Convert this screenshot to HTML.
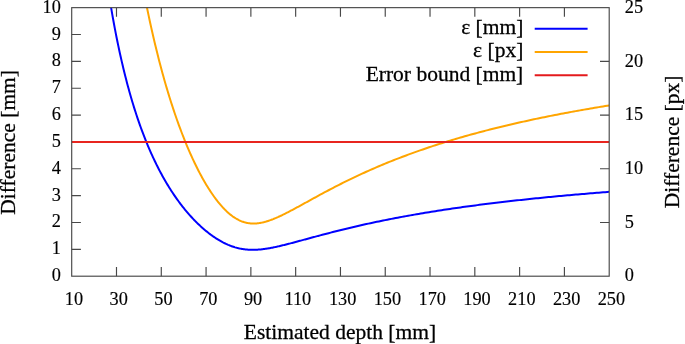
<!DOCTYPE html>
<html><head><meta charset="utf-8"><title>plot</title>
<style>
html,body{margin:0;padding:0;background:#fff;}
body{width:685px;height:344px;overflow:hidden;}
svg{display:block;}
.t{font-family:"Liberation Serif","DejaVu Serif",serif;font-size:18.3px;fill:#000;stroke:#000;stroke-width:0.15px;}
.b{font-family:"Liberation Serif","DejaVu Serif",serif;font-size:21.5px;fill:#000;stroke:#000;stroke-width:0.28px;}
</style></head><body>
<svg width="685" height="344" viewBox="0 0 685 344">
<rect width="685" height="344" fill="#fff"/>
<defs><clipPath id="c"><rect x="71.70" y="7.65" width="537.50" height="268.55"/></clipPath></defs>
<path d="M116.49,276.2v-9.2M116.49,7.65v9.2M161.28,276.2v-9.2M161.28,7.65v9.2M206.07,276.2v-9.2M206.07,7.65v9.2M250.87,276.2v-9.2M250.87,7.65v9.2M295.66,276.2v-9.2M295.66,7.65v9.2M340.45,276.2v-9.2M340.45,7.65v9.2M385.24,276.2v-9.2M385.24,7.65v9.2M430.03,276.2v-9.2M430.03,7.65v9.2M474.82,276.2v-9.2M474.82,7.65v9.2M519.62,276.2v-9.2M519.62,7.65v9.2M564.41,276.2v-9.2M564.41,7.65v9.2M71.7,249.34h9.2M71.7,222.49h9.2M71.7,195.63h9.2M71.7,168.78h9.2M71.7,141.92h9.2M71.7,115.07h9.2M71.7,88.21h9.2M71.7,61.36h9.2M71.7,34.50h9.2M609.2,222.49h-9.2M609.2,168.78h-9.2M609.2,115.07h-9.2M609.2,61.36h-9.2" stroke="#484848" stroke-width="1.15" fill="none"/>
<g clip-path="url(#c)" fill="none" stroke-width="2" stroke-linejoin="round">
<path d="M107.94,-11.90 L108.80,-6.35 L109.67,-0.95 L110.53,4.31 L111.40,9.42 L112.26,14.40 L113.13,19.25 L113.99,23.98 L114.86,28.58 L115.72,33.07 L116.59,37.46 L117.45,41.73 L118.32,45.90 L119.18,49.97 L120.05,53.95 L120.91,57.83 L121.78,61.63 L122.64,65.33 L123.51,68.96 L124.37,72.50 L125.24,75.97 L126.10,79.36 L126.96,82.68 L127.83,85.93 L128.69,89.11 L129.56,92.22 L130.42,95.27 L131.29,98.26 L132.15,101.19 L133.02,104.05 L133.88,106.87 L134.75,109.62 L135.61,112.32 L136.48,114.97 L137.34,117.57 L138.21,120.12 L139.07,122.63 L139.94,125.08 L140.80,127.49 L141.67,129.86 L142.53,132.18 L143.40,134.47 L144.26,136.71 L145.13,138.91 L145.99,141.07 L146.86,143.19 L147.72,145.28 L148.59,147.33 L149.45,149.35 L150.32,151.33 L151.18,153.28 L152.05,155.20 L152.91,157.09 L153.78,158.94 L154.64,160.76 L155.51,162.56 L156.37,164.32 L157.24,166.06 L158.10,167.77 L158.96,169.45 L159.83,171.10 L160.69,172.73 L161.56,174.33 L162.42,175.91 L163.29,177.46 L164.15,178.99 L165.02,180.50 L165.88,181.98 L166.75,183.44 L167.61,184.88 L168.48,186.29 L169.34,187.69 L170.21,189.06 L171.07,190.42 L171.94,191.75 L172.80,193.06 L173.67,194.35 L174.53,195.63 L175.40,196.88 L176.26,198.12 L177.13,199.34 L177.99,200.54 L178.86,201.72 L179.72,202.88 L180.59,204.03 L181.45,205.16 L182.32,206.28 L183.18,207.37 L184.05,208.45 L184.91,209.52 L185.78,210.57 L186.64,211.60 L187.51,212.62 L188.37,213.62 L189.24,214.61 L190.10,215.58 L190.96,216.54 L191.83,217.48 L192.69,218.41 L193.56,219.33 L194.42,220.23 L195.29,221.11 L196.15,221.98 L197.02,222.84 L197.88,223.69 L198.75,224.52 L199.61,225.33 L200.48,226.14 L201.34,226.93 L202.21,227.70 L203.07,228.46 L203.94,229.21 L204.80,229.95 L205.67,230.67 L206.53,231.38 L207.40,232.08 L208.26,232.76 L209.13,233.43 L209.99,234.09 L210.86,234.74 L211.72,235.37 L212.59,235.98 L213.45,236.59 L214.32,237.18 L215.18,237.76 L216.05,238.32 L216.91,238.88 L217.78,239.42 L218.64,239.94 L219.51,240.45 L220.37,240.95 L221.24,241.44 L222.10,241.91 L222.96,242.37 L223.83,242.81 L224.69,243.24 L225.56,243.66 L226.42,244.06 L227.29,244.45 L228.15,244.83 L229.02,245.19 L229.88,245.54 L230.75,245.87 L231.61,246.19 L232.48,246.50 L233.34,246.79 L234.21,247.07 L235.07,247.34 L235.94,247.59 L236.80,247.83 L237.67,248.05 L238.53,248.26 L239.40,248.45 L240.26,248.64 L241.13,248.81 L241.99,248.96 L242.86,249.10 L243.72,249.23 L244.59,249.35 L245.45,249.45 L246.32,249.54 L247.18,249.62 L248.05,249.69 L248.91,249.74 L249.78,249.79 L250.64,249.82 L251.51,249.84 L252.37,249.85 L253.24,249.84 L254.10,249.83 L254.96,249.81 L255.83,249.78 L256.69,249.73 L257.56,249.68 L258.42,249.62 L259.29,249.55 L260.15,249.47 L261.02,249.39 L261.88,249.29 L262.75,249.19 L263.61,249.08 L264.48,248.97 L265.34,248.84 L266.21,248.71 L267.07,248.58 L267.94,248.44 L268.80,248.29 L269.67,248.14 L270.53,247.98 L271.40,247.82 L272.26,247.65 L273.13,247.48 L273.99,247.30 L274.86,247.12 L275.72,246.93 L276.59,246.75 L277.45,246.55 L278.32,246.36 L279.18,246.16 L280.05,245.96 L280.91,245.76 L281.78,245.55 L282.64,245.34 L283.51,245.13 L284.37,244.92 L285.24,244.70 L286.10,244.48 L286.96,244.26 L287.83,244.04 L288.69,243.82 L289.56,243.60 L290.42,243.37 L291.29,243.15 L292.15,242.92 L293.02,242.69 L293.88,242.46 L294.75,242.23 L295.61,242.00 L296.48,241.77 L297.34,241.53 L298.21,241.30 L299.07,241.07 L299.94,240.83 L300.80,240.60 L301.67,240.37 L302.53,240.13 L303.40,239.90 L304.26,239.66 L305.13,239.43 L305.99,239.19 L306.86,238.96 L307.72,238.72 L308.59,238.49 L309.45,238.25 L310.32,238.02 L311.18,237.78 L312.05,237.55 L312.91,237.32 L313.78,237.08 L314.64,236.85 L315.51,236.62 L316.37,236.39 L317.24,236.15 L318.10,235.92 L320.19,235.36 L322.29,234.81 L324.38,234.26 L326.48,233.71 L328.57,233.16 L330.67,232.62 L332.76,232.08 L334.86,231.55 L336.95,231.02 L339.05,230.50 L341.14,229.98 L343.24,229.46 L345.33,228.95 L347.43,228.45 L349.52,227.94 L351.62,227.45 L353.71,226.96 L355.81,226.47 L357.90,225.99 L360.00,225.51 L362.09,225.03 L364.19,224.57 L366.28,224.10 L368.38,223.64 L370.47,223.19 L372.57,222.74 L374.66,222.29 L376.76,221.85 L378.85,221.41 L380.95,220.98 L383.04,220.55 L385.14,220.13 L387.23,219.71 L389.33,219.29 L391.42,218.88 L393.52,218.48 L395.61,218.07 L397.71,217.67 L399.80,217.28 L401.90,216.89 L403.99,216.50 L406.09,216.12 L408.18,215.74 L410.28,215.37 L412.37,215.00 L414.47,214.63 L416.56,214.26 L418.66,213.90 L420.75,213.55 L422.85,213.19 L424.94,212.84 L427.04,212.50 L429.13,212.16 L431.23,211.82 L433.32,211.48 L435.42,211.15 L437.51,210.82 L439.61,210.49 L441.70,210.17 L443.80,209.85 L445.89,209.53 L447.99,209.22 L450.08,208.91 L452.18,208.60 L454.27,208.30 L456.37,207.99 L458.46,207.69 L460.56,207.40 L462.65,207.10 L464.75,206.81 L466.84,206.53 L468.94,206.24 L471.03,205.96 L473.13,205.68 L475.22,205.40 L477.32,205.13 L479.41,204.85 L481.51,204.58 L483.60,204.32 L485.70,204.05 L487.79,203.79 L489.89,203.53 L491.98,203.27 L494.08,203.02 L496.17,202.76 L498.27,202.51 L500.36,202.26 L502.46,202.02 L504.55,201.77 L506.65,201.53 L508.74,201.29 L510.84,201.05 L512.93,200.82 L515.03,200.58 L517.12,200.35 L519.22,200.12 L521.31,199.89 L523.41,199.67 L525.50,199.44 L527.60,199.22 L529.69,199.00 L531.79,198.78 L533.88,198.57 L535.98,198.35 L538.07,198.14 L540.17,197.93 L542.26,197.72 L544.36,197.51 L546.45,197.31 L548.55,197.10 L550.64,196.90 L552.74,196.70 L554.83,196.50 L556.93,196.30 L559.02,196.11 L561.12,195.91 L563.21,195.72 L565.31,195.53 L567.40,195.34 L569.50,195.15 L571.59,194.96 L573.69,194.78 L575.78,194.60 L577.88,194.41 L579.97,194.23 L582.07,194.05 L584.16,193.88 L586.26,193.70 L588.35,193.52 L590.45,193.35 L592.54,193.18 L594.64,193.01 L596.73,192.84 L598.83,192.67 L600.92,192.50 L603.02,192.34 L605.11,192.17 L607.21,192.01 L609.30,191.85" stroke="#0000ff"/>
<path d="M143.40,-10.49 L144.26,-5.98 L145.13,-1.55 L145.99,2.80 L146.86,7.08 L147.72,11.28 L148.59,15.41 L149.45,19.47 L150.32,23.46 L151.18,27.39 L152.05,31.24 L152.91,35.04 L153.78,38.77 L154.64,42.45 L155.51,46.06 L156.37,49.61 L157.24,53.11 L158.10,56.55 L158.96,59.94 L159.83,63.28 L160.69,66.56 L161.56,69.79 L162.42,72.97 L163.29,76.10 L164.15,79.18 L165.02,82.22 L165.88,85.21 L166.75,88.15 L167.61,91.05 L168.48,93.91 L169.34,96.72 L170.21,99.50 L171.07,102.23 L171.94,104.91 L172.80,107.56 L173.67,110.17 L174.53,112.75 L175.40,115.28 L176.26,117.78 L177.13,120.24 L177.99,122.66 L178.86,125.05 L179.72,127.40 L180.59,129.72 L181.45,132.01 L182.32,134.26 L183.18,136.48 L184.05,138.66 L184.91,140.82 L185.78,142.94 L186.64,145.03 L187.51,147.09 L188.37,149.12 L189.24,151.11 L190.10,153.08 L190.96,155.02 L191.83,156.93 L192.69,158.81 L193.56,160.66 L194.42,162.49 L195.29,164.28 L196.15,166.05 L197.02,167.79 L197.88,169.50 L198.75,171.19 L199.61,172.84 L200.48,174.47 L201.34,176.08 L202.21,177.66 L203.07,179.21 L203.94,180.73 L204.80,182.23 L205.67,183.70 L206.53,185.14 L207.40,186.56 L208.26,187.95 L209.13,189.32 L209.99,190.66 L210.86,191.97 L211.72,193.26 L212.59,194.52 L213.45,195.76 L214.32,196.97 L215.18,198.15 L216.05,199.31 L216.91,200.44 L217.78,201.55 L218.64,202.62 L219.51,203.67 L220.37,204.70 L221.24,205.70 L222.10,206.67 L222.96,207.61 L223.83,208.53 L224.69,209.42 L225.56,210.29 L226.42,211.12 L227.29,211.93 L228.15,212.71 L229.02,213.47 L229.88,214.19 L230.75,214.89 L231.61,215.56 L232.48,216.21 L233.34,216.82 L234.21,217.41 L235.07,217.97 L235.94,218.50 L236.80,219.00 L237.67,219.48 L238.53,219.93 L239.40,220.35 L240.26,220.74 L241.13,221.11 L241.99,221.45 L242.86,221.76 L243.72,222.05 L244.59,222.31 L245.45,222.55 L246.32,222.75 L247.18,222.94 L248.05,223.10 L248.91,223.23 L249.78,223.34 L250.64,223.43 L251.51,223.49 L252.37,223.53 L253.24,223.55 L254.10,223.54 L254.96,223.52 L255.83,223.47 L256.69,223.41 L257.56,223.32 L258.42,223.22 L259.29,223.10 L260.15,222.96 L261.02,222.80 L261.88,222.63 L262.75,222.44 L263.61,222.24 L264.48,222.02 L265.34,221.78 L266.21,221.54 L267.07,221.28 L267.94,221.00 L268.80,220.72 L269.67,220.42 L270.53,220.11 L271.40,219.79 L272.26,219.46 L273.13,219.13 L273.99,218.78 L274.86,218.42 L275.72,218.06 L276.59,217.68 L277.45,217.30 L278.32,216.92 L279.18,216.52 L280.05,216.12 L280.91,215.72 L281.78,215.31 L282.64,214.89 L283.51,214.47 L284.37,214.04 L285.24,213.61 L286.10,213.17 L286.96,212.73 L287.83,212.29 L288.69,211.84 L289.56,211.39 L290.42,210.94 L291.29,210.48 L292.15,210.03 L293.02,209.57 L293.88,209.10 L294.75,208.64 L295.61,208.17 L296.48,207.71 L297.34,207.24 L298.21,206.77 L299.07,206.30 L299.94,205.82 L300.80,205.35 L301.67,204.88 L302.53,204.40 L303.40,203.93 L304.26,203.45 L305.13,202.98 L305.99,202.50 L306.86,202.02 L307.72,201.55 L308.59,201.07 L309.45,200.60 L310.32,200.12 L311.18,199.64 L312.05,199.17 L312.91,198.70 L313.78,198.22 L314.64,197.75 L315.51,197.28 L316.37,196.80 L317.24,196.33 L318.10,195.86 L320.19,194.73 L322.29,193.60 L324.38,192.48 L326.48,191.36 L328.57,190.25 L330.67,189.15 L332.76,188.05 L334.86,186.97 L336.95,185.89 L339.05,184.82 L341.14,183.76 L343.24,182.71 L345.33,181.67 L347.43,180.64 L349.52,179.62 L351.62,178.60 L353.71,177.60 L355.81,176.60 L357.90,175.62 L360.00,174.64 L362.09,173.67 L364.19,172.72 L366.28,171.77 L368.38,170.83 L370.47,169.90 L372.57,168.98 L374.66,168.07 L376.76,167.17 L378.85,166.27 L380.95,165.39 L383.04,164.51 L385.14,163.64 L387.23,162.79 L389.33,161.94 L391.42,161.09 L393.52,160.26 L395.61,159.44 L397.71,158.62 L399.80,157.81 L401.90,157.01 L403.99,156.22 L406.09,155.44 L408.18,154.66 L410.28,153.89 L412.37,153.13 L414.47,152.38 L416.56,151.63 L418.66,150.89 L420.75,150.16 L422.85,149.44 L424.94,148.72 L427.04,148.01 L429.13,147.31 L431.23,146.61 L433.32,145.92 L435.42,145.24 L437.51,144.56 L439.61,143.89 L441.70,143.23 L443.80,142.57 L445.89,141.92 L447.99,141.27 L450.08,140.64 L452.18,140.00 L454.27,139.38 L456.37,138.76 L458.46,138.14 L460.56,137.53 L462.65,136.93 L464.75,136.33 L466.84,135.74 L468.94,135.15 L471.03,134.57 L473.13,133.99 L475.22,133.42 L477.32,132.86 L479.41,132.30 L481.51,131.74 L483.60,131.19 L485.70,130.65 L487.79,130.11 L489.89,129.57 L491.98,129.04 L494.08,128.51 L496.17,127.99 L498.27,127.47 L500.36,126.96 L502.46,126.45 L504.55,125.95 L506.65,125.45 L508.74,124.96 L510.84,124.47 L512.93,123.98 L515.03,123.50 L517.12,123.02 L519.22,122.54 L521.31,122.07 L523.41,121.61 L525.50,121.15 L527.60,120.69 L529.69,120.23 L531.79,119.78 L533.88,119.34 L535.98,118.89 L538.07,118.45 L540.17,118.02 L542.26,117.59 L544.36,117.16 L546.45,116.73 L548.55,116.31 L550.64,115.89 L552.74,115.48 L554.83,115.07 L556.93,114.66 L559.02,114.25 L561.12,113.85 L563.21,113.45 L565.31,113.06 L567.40,112.66 L569.50,112.27 L571.59,111.89 L573.69,111.51 L575.78,111.13 L577.88,110.75 L579.97,110.37 L582.07,110.00 L584.16,109.63 L586.26,109.27 L588.35,108.91 L590.45,108.55 L592.54,108.19 L594.64,107.83 L596.73,107.48 L598.83,107.13 L600.92,106.79 L603.02,106.44 L605.11,106.10 L607.21,105.76 L609.30,105.43" stroke="#ffa500"/>
<path d="M71.7,142.03H609.2" stroke="#e8251f"/>
</g>
<rect x="71.7" y="7.65" width="537.50" height="268.55" fill="none" stroke="#484848" stroke-width="1.15"/>
<path d="M534.7,28.70H587.6" stroke="#0000ff" stroke-width="2"/>
<text x="523.3" y="34.00" text-anchor="end" class="b">ε [mm]</text>
<path d="M534.7,52.00H587.6" stroke="#ffa500" stroke-width="2"/>
<text x="523.3" y="57.30" text-anchor="end" class="b">ε [px]</text>
<path d="M534.7,75.30H587.6" stroke="#e41a1c" stroke-width="2"/>
<text x="523.3" y="80.60" text-anchor="end" class="b">Error bound [mm]</text>
<text x="60.8" y="281.20" text-anchor="end" class="t">0</text>
<text x="60.8" y="254.34" text-anchor="end" class="t">1</text>
<text x="60.8" y="227.49" text-anchor="end" class="t">2</text>
<text x="60.8" y="200.63" text-anchor="end" class="t">3</text>
<text x="60.8" y="173.78" text-anchor="end" class="t">4</text>
<text x="60.8" y="146.92" text-anchor="end" class="t">5</text>
<text x="60.8" y="120.07" text-anchor="end" class="t">6</text>
<text x="60.8" y="93.21" text-anchor="end" class="t">7</text>
<text x="60.8" y="66.36" text-anchor="end" class="t">8</text>
<text x="60.8" y="39.50" text-anchor="end" class="t">9</text>
<text x="60.8" y="12.65" text-anchor="end" class="t">10</text>
<text x="624.8" y="281.40" class="t">0</text>
<text x="624.8" y="227.69" class="t">5</text>
<text x="624.8" y="173.98" class="t">10</text>
<text x="624.8" y="120.27" class="t">15</text>
<text x="624.8" y="66.56" class="t">20</text>
<text x="624.8" y="12.85" class="t">25</text>
<text x="73.90" y="304.8" text-anchor="middle" class="t">10</text>
<text x="118.69" y="304.8" text-anchor="middle" class="t">30</text>
<text x="163.48" y="304.8" text-anchor="middle" class="t">50</text>
<text x="208.27" y="304.8" text-anchor="middle" class="t">70</text>
<text x="253.07" y="304.8" text-anchor="middle" class="t">90</text>
<text x="297.86" y="304.8" text-anchor="middle" class="t">110</text>
<text x="342.65" y="304.8" text-anchor="middle" class="t">130</text>
<text x="387.44" y="304.8" text-anchor="middle" class="t">150</text>
<text x="432.23" y="304.8" text-anchor="middle" class="t">170</text>
<text x="477.02" y="304.8" text-anchor="middle" class="t">190</text>
<text x="521.82" y="304.8" text-anchor="middle" class="t">210</text>
<text x="566.61" y="304.8" text-anchor="middle" class="t">230</text>
<text x="611.40" y="304.8" text-anchor="middle" class="t">250</text>
<text x="340" y="339.3" text-anchor="middle" class="b">Estimated depth [mm]</text>
<text transform="translate(14.9,142.33) rotate(-90)" text-anchor="middle" class="b">Difference [mm]</text>
<text transform="translate(679.3,141.93) rotate(-90)" text-anchor="middle" class="b">Difference [px]</text>
</svg>
</body></html>
